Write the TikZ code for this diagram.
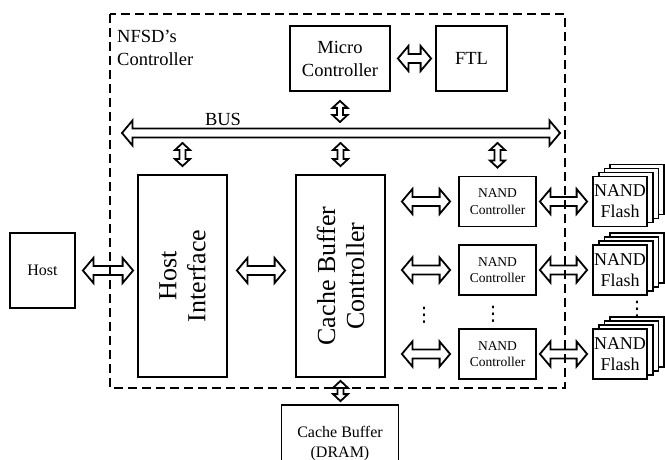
\documentclass[tikz,border=0pt]{standalone}
\usepackage{fontspec}
\setmainfont{Liberation Serif}
\newfontfamily\dejavu{DejaVu Sans}
\usetikzlibrary{calc}

% hollow double arrows, horizontal (y of the first end) and vertical (x of the first end)
\newcommand{\harrow}[2]{%
  \draw[fat] let \p1=#1, \p2=#2 in
    (\x1,\y1) -- ++(10.5pt,12.5pt) -- ++(0,-8pt) -- (\x2-10.5pt,\y1+4.5pt) -- ++(0,8pt)
    -- (\x2,\y1) -- ++(-10.5pt,-12.5pt) -- ++(0,8pt) -- (\x1+10.5pt,\y1-4.5pt) -- ++(0,-8pt) -- cycle;}
\newcommand{\varrow}[2]{%
  \draw[fat] let \p1=#1, \p2=#2 in
    (\x1,\y1) -- ++(7.5pt,-7pt) -- ++(-4.5pt,0) -- (\x1+3pt,\y2+7pt) -- ++(4.5pt,0)
    -- (\x1,\y2) -- ++(-7.5pt,7pt) -- ++(4.5pt,0) -- (\x1-3pt,\y1-7pt) -- ++(-4.5pt,0) -- cycle;}
\newcommand{\flashstack}[3]{%
  \foreach \k in {3,2,1}
    \node[blk, fill=white, minimum width=54, minimum height=50] at (#2+5.7*\k,#3-4*\k) {};
  \node[blk, fill=white, minimum width=54, minimum height=50, font=\fontsize{18}{21}\selectfont] (#1) at (#2,#3) {NAND\\Flash};}

\begin{document}
\begin{tikzpicture}[x=1pt,y=-1pt,
  blk/.style={draw, line width=1.8pt, align=center, inner sep=0pt},
  fat/.style={draw, line width=1.8pt, line join=miter},
  big/.style={font=\fontsize{18.5}{23}\selectfont},
  vert/.style={rotate=90, font=\fontsize{26}{29}\selectfont, align=center},
  vdot/.style={font=\dejavu\fontsize{20}{20}\selectfont, inner sep=0pt}]
\useasboundingbox (0,0) rectangle (665,460);

\draw[line width=1.8pt, dash pattern=on 9pt off 5pt] (110,14) rectangle (565,388);
\node[big, anchor=north west, align=left, inner sep=0pt] (title) at (117,30) {NFSD’s\\Controller};

\node[blk, big, minimum width=100, minimum height=65] (micro) at (340,58.5) {Micro\\Controller};
\node[blk, big, minimum width=71, minimum height=65] (ftl) at (471.5,58.5) {FTL};

\coordinate (busL) at (122,133);
\coordinate (busR) at (560,133);
\harrow{(busL)}{(busR)}
\node[big, anchor=base] (buslbl) at (223,126) {BUS};

\node[blk, minimum width=65, minimum height=75, font=\fontsize{16}{19}\selectfont] (host) at (42.5,270.5) {Host};
\node[blk, minimum width=89, minimum height=202] (hi) at (182.5,276) {};
\node[vert] at (hi) {Host\\Interface};
\node[blk, minimum width=89, minimum height=202] (cbc) at (340.5,276) {};
\node[vert] at (cbc) {Cache Buffer\\Controller};

\begin{scope}[every node/.style={blk, minimum width=77, minimum height=50, font=\fontsize{13.5}{16.5}\selectfont}]
\node (nc1) at (497.5,201.5) {NAND\\Controller};
\node (nc2) at (497.5,270) {NAND\\Controller};
\node (nc3) at (497.5,354) {NAND\\Controller};
\end{scope}

\flashstack{fl1}{620}{201.5}
\flashstack{fl2}{620}{270}
\flashstack{fl3}{620}{354}

\node[blk, minimum width=117, minimum height=78, font=\fontsize{16}{20}\selectfont] (dram) at (340,444) {Cache Buffer\\(DRAM)};

\node[vdot] (dots1) at (424,315) {⋮};
\node[vdot] (dots2) at (493,314) {⋮};
\node[vdot] (dots3) at (637,309) {⋮};

\harrow{($(micro.east)+(7pt,0)$)}{($(ftl.west)+(-4pt,0)$)}
\harrow{($(host.east)+(7pt,0)$)}{($(hi.west)+(-4pt,0)$)}
\harrow{($(hi.east |- host)+(9pt,0)$)}{($(cbc.west)+(-10pt,0)$)}
\harrow{($(cbc.east |- nc1)+(16pt,0)$)}{($(nc1.west)+(-8pt,0)$)}
\harrow{($(cbc.east |- nc2)+(16pt,0)$)}{($(nc2.west)+(-8pt,0)$)}
\harrow{($(cbc.east |- nc3)+(16pt,0)$)}{($(nc3.west)+(-8pt,0)$)}
\harrow{($(nc1.east)+(3pt,0)$)}{($(fl1.west)+(-5pt,0)$)}
\harrow{($(nc2.east)+(3pt,0)$)}{($(fl2.west)+(-5pt,0)$)}
\harrow{($(nc3.east)+(3pt,0)$)}{($(fl3.west)+(-5pt,0)$)}

\varrow{($(micro.south)+(0,-9pt)$)}{($(micro.south |- busL)+(0,11pt)$)}
\varrow{($(hi.north |- busL)+(0,-10pt)$)}{($(hi.north)+(0,8pt)$)}
\varrow{($(cbc.north |- busL)+(0,-10pt)$)}{($(cbc.north)+(0,8pt)$)}
\varrow{($(nc1.north |- busL)+(0,-10pt)$)}{($(nc1.north)+(0,8pt)$)}
\varrow{($(cbc.south)+(0,-3pt)$)}{($(dram.north)+(0,3pt)$)}
\end{tikzpicture}
\end{document}
